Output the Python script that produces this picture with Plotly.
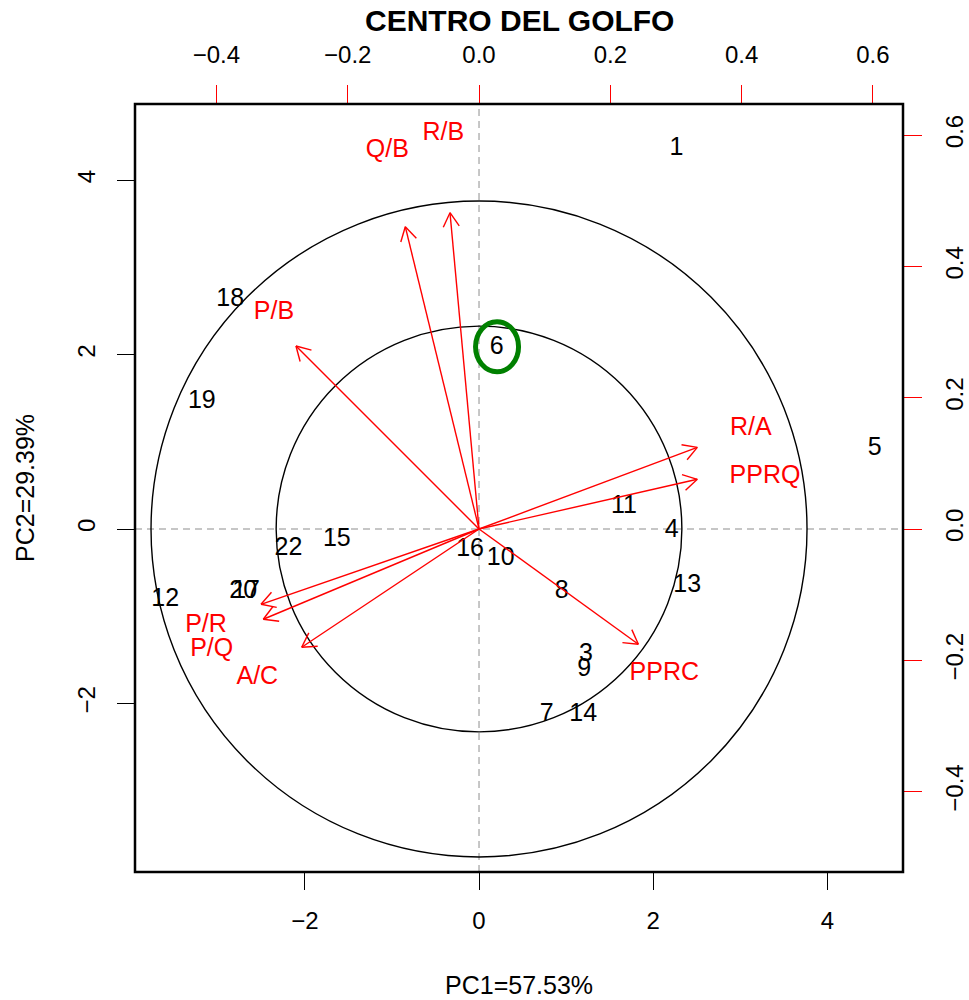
import math
import plotly.graph_objects as go

# ---------------- data ----------------
obs_labels = ["1", "3", "4", "5", "6", "7", "8", "9", "10", "11",
              "12", "13", "14", "15", "16", "17", "18", "19", "20", "22"]
pc1 = [2.268, 1.228, 2.211, 4.544, 0.203, 0.777, 0.949, 1.208, 0.249, 1.664,
       -3.603, 2.390, 1.197, -1.633, -0.103, -2.674, -2.857, -3.182, -2.708, -2.188]
pc2 = [4.366, -1.445, -0.023, 0.925, 2.084, -2.133, -0.719, -1.609, -0.336, 0.256,
       -0.806, -0.654, -2.133, -0.118, -0.233, -0.719, 2.626, 1.460, -0.719, -0.221]

var_names = ["Q/B", "R/B", "P/B", "R/A", "PPRQ", "PPRC", "P/R", "P/Q", "A/C"]
tip_x = [-0.1123, -0.0442, -0.2788, 0.3325, 0.3325, 0.2427, -0.3321, -0.3286, -0.2701]
tip_y = [0.4605, 0.4818, 0.2788, 0.1244, 0.0757, -0.1756, -0.1147, -0.1375, -0.1802]
lab_x = [-0.1397, -0.0544, -0.3123, 0.4139, 0.4356, 0.2823, -0.4158, -0.4072, -0.3377]
lab_y = [0.5758, 0.6027, 0.3290, 0.1534, 0.0797, -0.2198, -0.1473, -0.1832, -0.2259]

circle_radii = [0.309, 0.4996]          # in loading units
highlight_center = (0.207, 2.09)         # observation 6
highlight_radius = (0.247, 0.287)

pc_range_x = [-3.95, 4.868]
pc_range_y = [-3.933, 4.874]
load_range_x = [-0.524, 0.6458]
load_range_y = [-0.5225, 0.6474]

title = "CENTRO DEL GOLFO"
xlab = "PC1=57.53%"
ylab = "PC2=29.39%"

FONT = "Liberation Sans, Arial, sans-serif"
RED = "#ff0000"

# ---------------- arrows (shaft + open V head) ----------------
head_len = 0.0244
ax, ay = [], []
for tx, ty in zip(tip_x, tip_y):
    ax += [0, tx, None]
    ang = math.atan2(ty, tx)
    for d in (math.radians(30), -math.radians(30)):
        ax += [tx - head_len * math.cos(ang + d), tx, None]
    ay += [0, ty, None]
    for d in (math.radians(30), -math.radians(30)):
        ay += [ty - head_len * math.sin(ang + d), ty, None]

fig = go.Figure()

fig.add_trace(go.Scatter(
    x=ax, y=ay, mode="lines", xaxis="x2", yaxis="y2",
    line=dict(color=RED, width=1.4), hoverinfo="skip", showlegend=False))

fig.add_trace(go.Scatter(
    x=lab_x, y=lab_y, mode="text", text=var_names, xaxis="x2", yaxis="y2",
    textfont=dict(color=RED, size=25, family=FONT), textposition="middle center",
    showlegend=False))

fig.add_trace(go.Scatter(
    x=pc1, y=pc2, mode="text", text=obs_labels,
    textfont=dict(color="black", size=25, family=FONT), textposition="middle center",
    showlegend=False))

shapes = []
# dashed reference lines
shapes.append(dict(type="line", xref="x", yref="paper", x0=0, x1=0, y0=0, y1=1,
                   line=dict(color="#b4b4b4", width=1.5, dash="7px,5px"), layer="below"))
shapes.append(dict(type="line", xref="paper", yref="y", x0=0, x1=1, y0=0, y1=0,
                   line=dict(color="#b4b4b4", width=1.5, dash="7px,5px"), layer="below"))
for r in circle_radii:
    shapes.append(dict(type="circle", xref="x2", yref="y2", x0=-r, x1=r, y0=-r, y1=r,
                       line=dict(color="black", width=1.4), layer="below"))
cx, cy = highlight_center
rx, ry = highlight_radius
shapes.append(dict(type="circle", xref="x", yref="y", x0=cx - rx, x1=cx + rx,
                   y0=cy - ry, y1=cy + ry, line=dict(color="#008000", width=5)))
# box
shapes.append(dict(type="rect", xref="paper", yref="paper", x0=0, x1=1, y0=0, y1=1,
                   line=dict(color="black", width=2.5)))

axis_common = dict(showgrid=False, zeroline=False, showline=False, ticks="outside",
                   automargin=False, tickwidth=1.2,
                   tickfont=dict(size=24, color="black", family=FONT))

fig.update_layout(
    width=969, height=1000,
    margin=dict(l=135, r=66, t=104, b=128),
    paper_bgcolor="white", plot_bgcolor="white",
    font=dict(family=FONT, color="black"),
    shapes=shapes,
    xaxis=dict(range=pc_range_x, tickvals=[-2, 0, 2, 4], ticklen=17, tickcolor="black",
               ticklabelstandoff=10, **axis_common),
    yaxis=dict(range=pc_range_y, tickvals=[-2, 0, 2, 4], ticklen=17, tickcolor="black",
               tickangle=-90, ticklabelstandoff=12, **axis_common),
    xaxis2=dict(range=load_range_x, overlaying="x", side="top", anchor="y",
                tickvals=[-0.4, -0.2, 0, 0.2, 0.4, 0.6], tickformat=".1f",
                ticklen=18, tickcolor=RED, ticklabelstandoff=12, **axis_common),
    yaxis2=dict(range=load_range_y, overlaying="y", side="right", anchor="x",
                tickvals=[-0.4, -0.2, 0, 0.2, 0.4, 0.6], tickformat=".1f",
                ticklen=18, tickcolor=RED, tickangle=-90, ticklabelstandoff=12,
                **axis_common),
    annotations=[
        dict(text="<b>" + title + "</b>", x=0.5, y=(872 - 21) / 768, xref="paper",
             yref="paper", showarrow=False, xanchor="center", yanchor="middle",
             font=dict(size=30, color="black", family=FONT)),
        dict(text=xlab, x=0.5, y=(872 - 985) / 768, xref="paper", yref="paper",
             showarrow=False, xanchor="center", yanchor="middle",
             font=dict(size=25, color="black", family=FONT)),
        dict(text=ylab, x=(25 - 135) / 768, y=0.5, xref="paper", yref="paper",
             showarrow=False, xanchor="center", yanchor="middle", textangle=-90,
             font=dict(size=25, color="black", family=FONT)),
    ],
)

# remove the default 8 px page margin so the figure fills the 969x1000 window exactly
fig.write_html(
    "out.html",
    config={"displayModeBar": False},
    post_script="document.body.style.margin='0px';"
                "document.documentElement.style.overflow='hidden';",
)
